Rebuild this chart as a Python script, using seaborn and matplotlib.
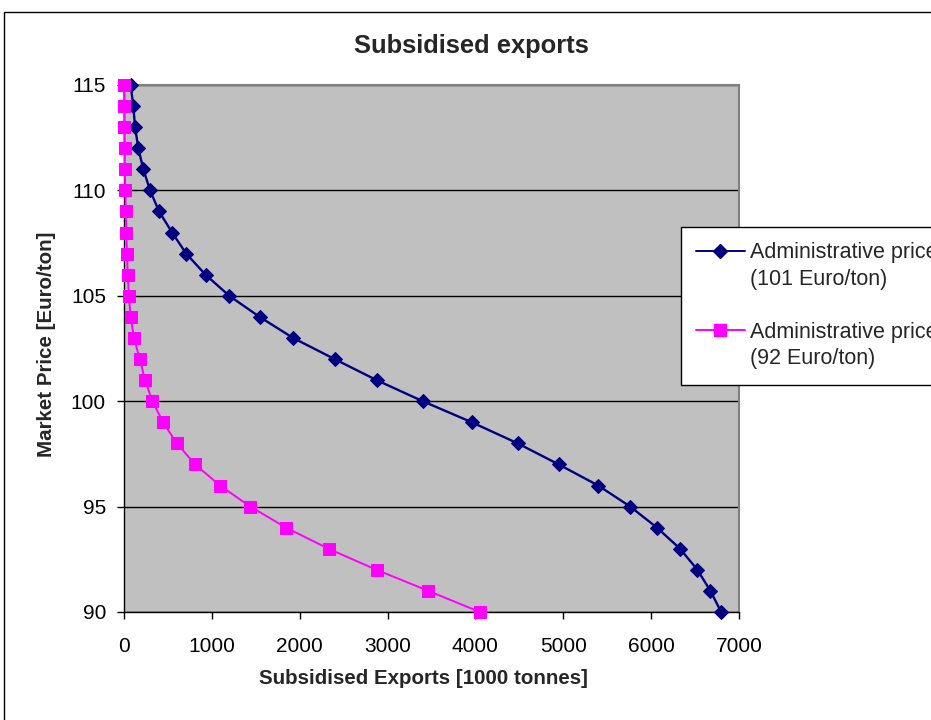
import numpy as np
import pandas as pd
import matplotlib
matplotlib.use("Agg")
import matplotlib.pyplot as plt
from matplotlib.patches import Rectangle
import seaborn as sns

# ---- data ----
price = [115, 114, 113, 112, 111, 110, 109, 108, 107, 106, 105, 104, 103,
         102, 101, 100, 99, 98, 97, 96, 95, 94, 93, 92, 91, 90]
exports_101 = [76, 106, 126, 163, 220, 297, 399, 548, 708, 928, 1198, 1543, 1925,
               2396, 2875, 3400, 3959, 4481, 4948, 5397, 5762, 6067, 6329, 6527, 6675, 6797]
exports_92 = [0, 2, 4, 6, 10, 15, 20, 26, 34, 43, 55, 75, 114,
              179, 240, 323, 445, 601, 810, 1092, 1438, 1845, 2328, 2875, 3465, 4050]
series_101 = "Administrative price (101 Euro/ton)"
series_92 = "Administrative price (92 Euro/ton)"
legend_lines_101 = ["Administrative price", "(101 Euro/ton)"]
legend_lines_92 = ["Administrative price", "(92 Euro/ton)"]
x_ticks = [0, 1000, 2000, 3000, 4000, 5000, 6000, 7000]
y_ticks = [90, 95, 100, 105, 110, 115]

df = pd.concat([
    pd.DataFrame({"exports": exports_101, "price": price, "series": series_101}),
    pd.DataFrame({"exports": exports_92, "price": price, "series": series_92}),
])

sns.set_style("white")
plt.rcParams["font.family"] = ["Liberation Sans", "DejaVu Sans"]

BLUE = "#000080"
PINK = "#FF00FF"
W, H = 931, 720
fig = plt.figure(figsize=(W / 100, H / 100), dpi=100)
L, R, T, B = 124, 739, 85, 612
ax = fig.add_axes([L / W, 1 - B / H, (R - L) / W, (B - T) / H])
ax.set_facecolor("#C0C0C0")

palette = {series_101: BLUE, series_92: PINK}
markers = {series_101: "D", series_92: "s"}
sns.lineplot(data=df, x="exports", y="price", hue="series", style="series",
             palette=palette, markers=markers, dashes=False, sort=False,
             estimator=None, ax=ax, linewidth=1.5, legend=False, clip_on=False)
for line in ax.lines:
    c = line.get_color()
    line.set_markeredgecolor(c)
    line.set_markerfacecolor(c)
    if line.get_marker() == "s":
        line.set_markersize(8.5)
        line.set_linewidth(1.4)
    else:
        line.set_markersize(7.5)
        line.set_linewidth(1.7)
    line.set_zorder(5)

ax.set_xlim(0, 7000)
ax.set_ylim(90, 115)
ax.set_xticks(x_ticks)
ax.set_yticks(y_ticks)
ax.set_xticklabels([str(v) for v in x_ticks])
ax.set_yticklabels([str(v) for v in y_ticks])
ax.tick_params(axis="both", direction="out", length=5, width=1, color="black",
               labelsize=15, labelcolor="black", pad=8,
               bottom=True, left=True)
ax.tick_params(axis="x", pad=13)
ax.yaxis.grid(True, color="black", linewidth=1)
ax.xaxis.grid(False)
ax.set_axisbelow(True)
for side in ["left", "bottom"]:
    ax.spines[side].set_color("black")
    ax.spines[side].set_linewidth(1)
for side in ["top", "right"]:
    ax.spines[side].set_visible(True)
    ax.spines[side].set_color("#808080")
    ax.spines[side].set_linewidth(1.5)

ax.set_xlabel("Subsidised Exports [1000 tonnes]", fontsize=14.8, fontweight="bold")
ax.xaxis.set_label_coords((423 - L) / (R - L), -(669 - B) / (B - T))
ax.set_ylabel("Market Price [Euro/ton]", fontsize=14.8, fontweight="bold")
ax.yaxis.label.set_va("center")
ax.yaxis.set_label_coords(-(L - 47) / (R - L), (B - 344) / (B - T))
fig.text(471.5 / W, 1 - 53.5 / H, "Subsidised exports", ha="center", va="baseline",
         fontsize=18.4, fontweight="bold")

blank = plt.Line2D([], [], linestyle="none", marker=None)
handles = [
    plt.Line2D([], [], color=BLUE, marker="D", markersize=7.5, linewidth=1.4),
    blank, blank,
    plt.Line2D([], [], color=PINK, marker="s", markersize=8.5, linewidth=1.4),
    blank,
]
labels = [legend_lines_101[0], legend_lines_101[1], " ",
          legend_lines_92[0], legend_lines_92[1]]
leg = fig.legend(handles, labels, loc="upper left",
                 bbox_to_anchor=(681 / W, 1 - 227 / H), fontsize=15.5,
                 frameon=True, fancybox=False, edgecolor="black",
                 framealpha=1, borderpad=0.7, labelspacing=0.26,
                 handlelength=2.25, handletextpad=0.25, borderaxespad=0)
leg.get_frame().set_linewidth(1)

# outer chart frame
fig.patches.append(Rectangle((4 / W, -0.1), 1.2, 1.1 - 12 / H,
                             transform=fig.transFigure, fill=False,
                             edgecolor="black", linewidth=1))

fig.savefig("out.png", dpi=100)
